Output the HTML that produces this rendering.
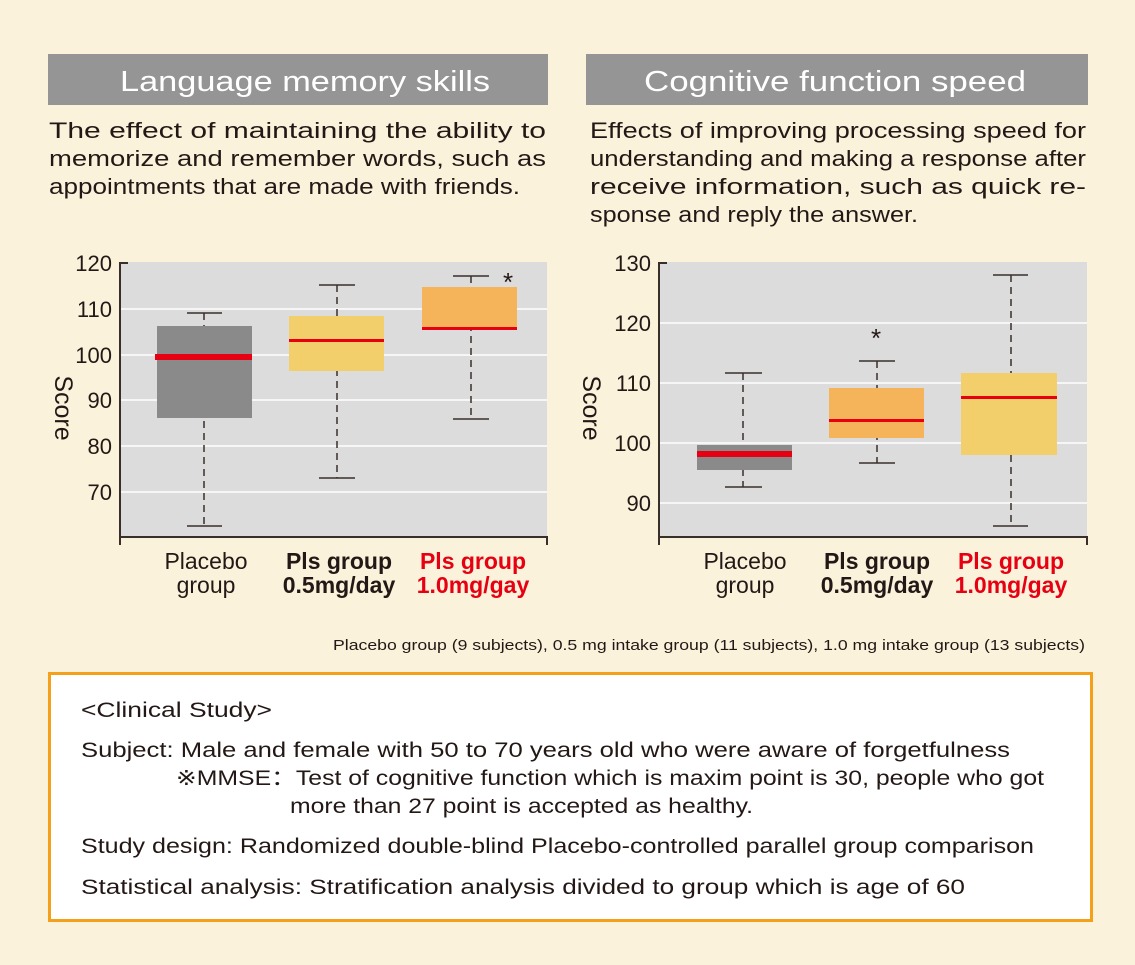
<!DOCTYPE html>
<html><head><meta charset="utf-8"><style>
html,body{margin:0;padding:0;background:#fbf2dc;}
svg{display:block;font-family:"Liberation Sans",sans-serif;}
</style></head><body>
<svg width="1135" height="965" viewBox="0 0 1135 965" xmlns="http://www.w3.org/2000/svg">
<rect width="1135" height="965" fill="#fbf2dc"/>
<!-- headers -->
<rect x="48" y="54" width="500" height="51" fill="#959595"/>
<text x="305" y="91" fill="#fff" font-size="29" text-anchor="middle" textLength="370" lengthAdjust="spacingAndGlyphs">Language memory skills</text>
<rect x="586" y="54" width="502" height="51" fill="#959595"/>
<text x="835" y="91" fill="#fff" font-size="29" text-anchor="middle" textLength="382" lengthAdjust="spacingAndGlyphs">Cognitive function speed</text>
<g fill="#231815" font-size="22">
<text x="49" y="138" textLength="497" lengthAdjust="spacingAndGlyphs">The effect of maintaining the ability to</text>
<text x="49" y="166" textLength="497" lengthAdjust="spacingAndGlyphs">memorize and remember words, such as</text>
<text x="49" y="194" textLength="471" lengthAdjust="spacingAndGlyphs">appointments that are made with friends.</text>
<text x="590" y="138" textLength="496" lengthAdjust="spacingAndGlyphs">Effects of improving processing speed for</text>
<text x="590" y="166" textLength="496" lengthAdjust="spacingAndGlyphs">understanding and making a response after</text>
<text x="590" y="194" textLength="496" lengthAdjust="spacingAndGlyphs">receive information, such as quick re-</text>
<text x="590" y="222" textLength="328" lengthAdjust="spacingAndGlyphs">sponse and reply the answer.</text>
</g>
<!-- LEFT CHART -->
<rect x="120" y="262" width="427" height="275" fill="#dcdcdc"/>
<g stroke="#fff" stroke-width="1.5">
<line x1="120" y1="309" x2="547" y2="309"/><line x1="120" y1="355" x2="547" y2="355"/>
<line x1="120" y1="400" x2="547" y2="400"/><line x1="120" y1="446" x2="547" y2="446"/>
<line x1="120" y1="492" x2="547" y2="492"/>
</g>
<g stroke="#3a2e2a" stroke-width="1.5" stroke-dasharray="7,5" fill="none">
<line x1="204" y1="313" x2="204" y2="526"/>
<line x1="337" y1="285" x2="337" y2="478"/>
<line x1="471" y1="276" x2="471" y2="419"/>
</g>
<g stroke="#3a2e2a" stroke-width="1.5">
<line x1="187" y1="313" x2="222" y2="313"/><line x1="187" y1="526" x2="222" y2="526"/>
<line x1="319" y1="285" x2="355" y2="285"/><line x1="319" y1="478" x2="355" y2="478"/>
<line x1="453" y1="276" x2="489" y2="276"/><line x1="453" y1="419" x2="489" y2="419"/>
</g>
<rect x="157" y="326" width="95" height="92" fill="#8a8a8a"/>
<rect x="155" y="354" width="97" height="6" fill="#e60012"/>
<rect x="289" y="316" width="95" height="55" fill="#f2cf6b"/>
<rect x="289" y="339" width="95" height="3" fill="#e60012"/>
<rect x="422" y="287" width="95" height="43" fill="#f5b45a"/>
<rect x="422" y="327" width="95" height="3" fill="#e60012"/>
<text x="508" y="291" font-size="26" fill="#231815" text-anchor="middle">*</text>
<g stroke="#3a2e2a" stroke-width="2" fill="none">
<polyline points="128,263 120,263 120,545"/>
<polyline points="120,537 547,537 547,545"/>
</g>
<g font-size="22" fill="#231815" text-anchor="end">
<text x="112" y="271">120</text><text x="112" y="317">110</text><text x="112" y="363">100</text>
<text x="112" y="408">90</text><text x="112" y="454">80</text><text x="112" y="500">70</text>
</g>
<text transform="translate(55,408) rotate(90)" font-size="25" fill="#231815" text-anchor="middle">Score</text>
<g font-size="23" text-anchor="middle">
<text x="206" y="569" fill="#231815">Placebo</text><text x="206" y="593" fill="#231815">group</text>
<text x="339" y="569" fill="#231815" font-weight="bold">Pls group</text><text x="339" y="593" fill="#231815" font-weight="bold">0.5mg/day</text>
<text x="473" y="569" fill="#e60012" font-weight="bold">Pls group</text><text x="473" y="593" fill="#e60012" font-weight="bold">1.0mg/gay</text>
</g>
<!-- RIGHT CHART -->
<rect x="659" y="262" width="428" height="275" fill="#dcdcdc"/>
<g stroke="#fff" stroke-width="1.5">
<line x1="659" y1="323" x2="1087" y2="323"/><line x1="659" y1="383" x2="1087" y2="383"/>
<line x1="659" y1="443" x2="1087" y2="443"/><line x1="659" y1="503" x2="1087" y2="503"/>
</g>
<g stroke="#3a2e2a" stroke-width="1.5" stroke-dasharray="7,5" fill="none">
<line x1="743" y1="373" x2="743" y2="487"/>
<line x1="877" y1="361" x2="877" y2="463"/>
<line x1="1011" y1="275" x2="1011" y2="526"/>
</g>
<g stroke="#3a2e2a" stroke-width="1.5">
<line x1="725" y1="373" x2="762" y2="373"/><line x1="725" y1="487" x2="762" y2="487"/>
<line x1="859" y1="361" x2="895" y2="361"/><line x1="859" y1="463" x2="895" y2="463"/>
<line x1="993" y1="275" x2="1028" y2="275"/><line x1="993" y1="526" x2="1028" y2="526"/>
</g>
<rect x="697" y="445" width="95" height="25" fill="#8a8a8a"/>
<rect x="697" y="451" width="95" height="6" fill="#e60012"/>
<rect x="829" y="388" width="95" height="50" fill="#f5b45a"/>
<rect x="829" y="419" width="95" height="3" fill="#e60012"/>
<rect x="961" y="373" width="96" height="82" fill="#f2cf6b"/>
<rect x="961" y="396" width="96" height="3" fill="#e60012"/>
<text x="876" y="347" font-size="26" fill="#231815" text-anchor="middle">*</text>
<g stroke="#3a2e2a" stroke-width="2" fill="none">
<polyline points="667,263 659,263 659,545"/>
<polyline points="659,537 1087,537 1087,545"/>
</g>
<g font-size="22" fill="#231815" text-anchor="end">
<text x="651" y="271">130</text><text x="651" y="331">120</text><text x="651" y="391">110</text>
<text x="651" y="451">100</text><text x="651" y="511">90</text>
</g>
<text transform="translate(583,408) rotate(90)" font-size="25" fill="#231815" text-anchor="middle">Score</text>
<g font-size="23" text-anchor="middle">
<text x="745" y="569" fill="#231815">Placebo</text><text x="745" y="593" fill="#231815">group</text>
<text x="877" y="569" fill="#231815" font-weight="bold">Pls group</text><text x="877" y="593" fill="#231815" font-weight="bold">0.5mg/day</text>
<text x="1011" y="569" fill="#e60012" font-weight="bold">Pls group</text><text x="1011" y="593" fill="#e60012" font-weight="bold">1.0mg/gay</text>
</g>
<!-- footnote -->
<text x="333" y="650" font-size="15" fill="#231815" textLength="752" lengthAdjust="spacingAndGlyphs">Placebo group (9 subjects), 0.5 mg intake group (11 subjects), 1.0 mg intake group (13 subjects)</text>
<!-- box -->
<rect x="49.5" y="673.5" width="1042" height="247" fill="#fff" stroke="#f5a01a" stroke-width="3"/>
<g font-size="21" fill="#231815">
<text x="81" y="717" textLength="191" lengthAdjust="spacingAndGlyphs">&lt;Clinical Study&gt;</text>
<text x="81" y="757" textLength="929" lengthAdjust="spacingAndGlyphs">Subject: Male and female with 50 to 70 years old who were aware of forgetfulness</text>
<text x="176" y="785" textLength="868" lengthAdjust="spacingAndGlyphs">※MMSE：Test of cognitive function which is maxim point is 30, people who got</text>
<text x="290" y="813" textLength="463" lengthAdjust="spacingAndGlyphs">more than 27 point is accepted as healthy.</text>
<text x="81" y="853" textLength="953" lengthAdjust="spacingAndGlyphs">Study design: Randomized double-blind Placebo-controlled parallel group comparison</text>
<text x="81" y="894" textLength="884" lengthAdjust="spacingAndGlyphs">Statistical analysis: Stratification analysis divided to group which is age of 60</text>
</g>
</svg>
</body></html>
